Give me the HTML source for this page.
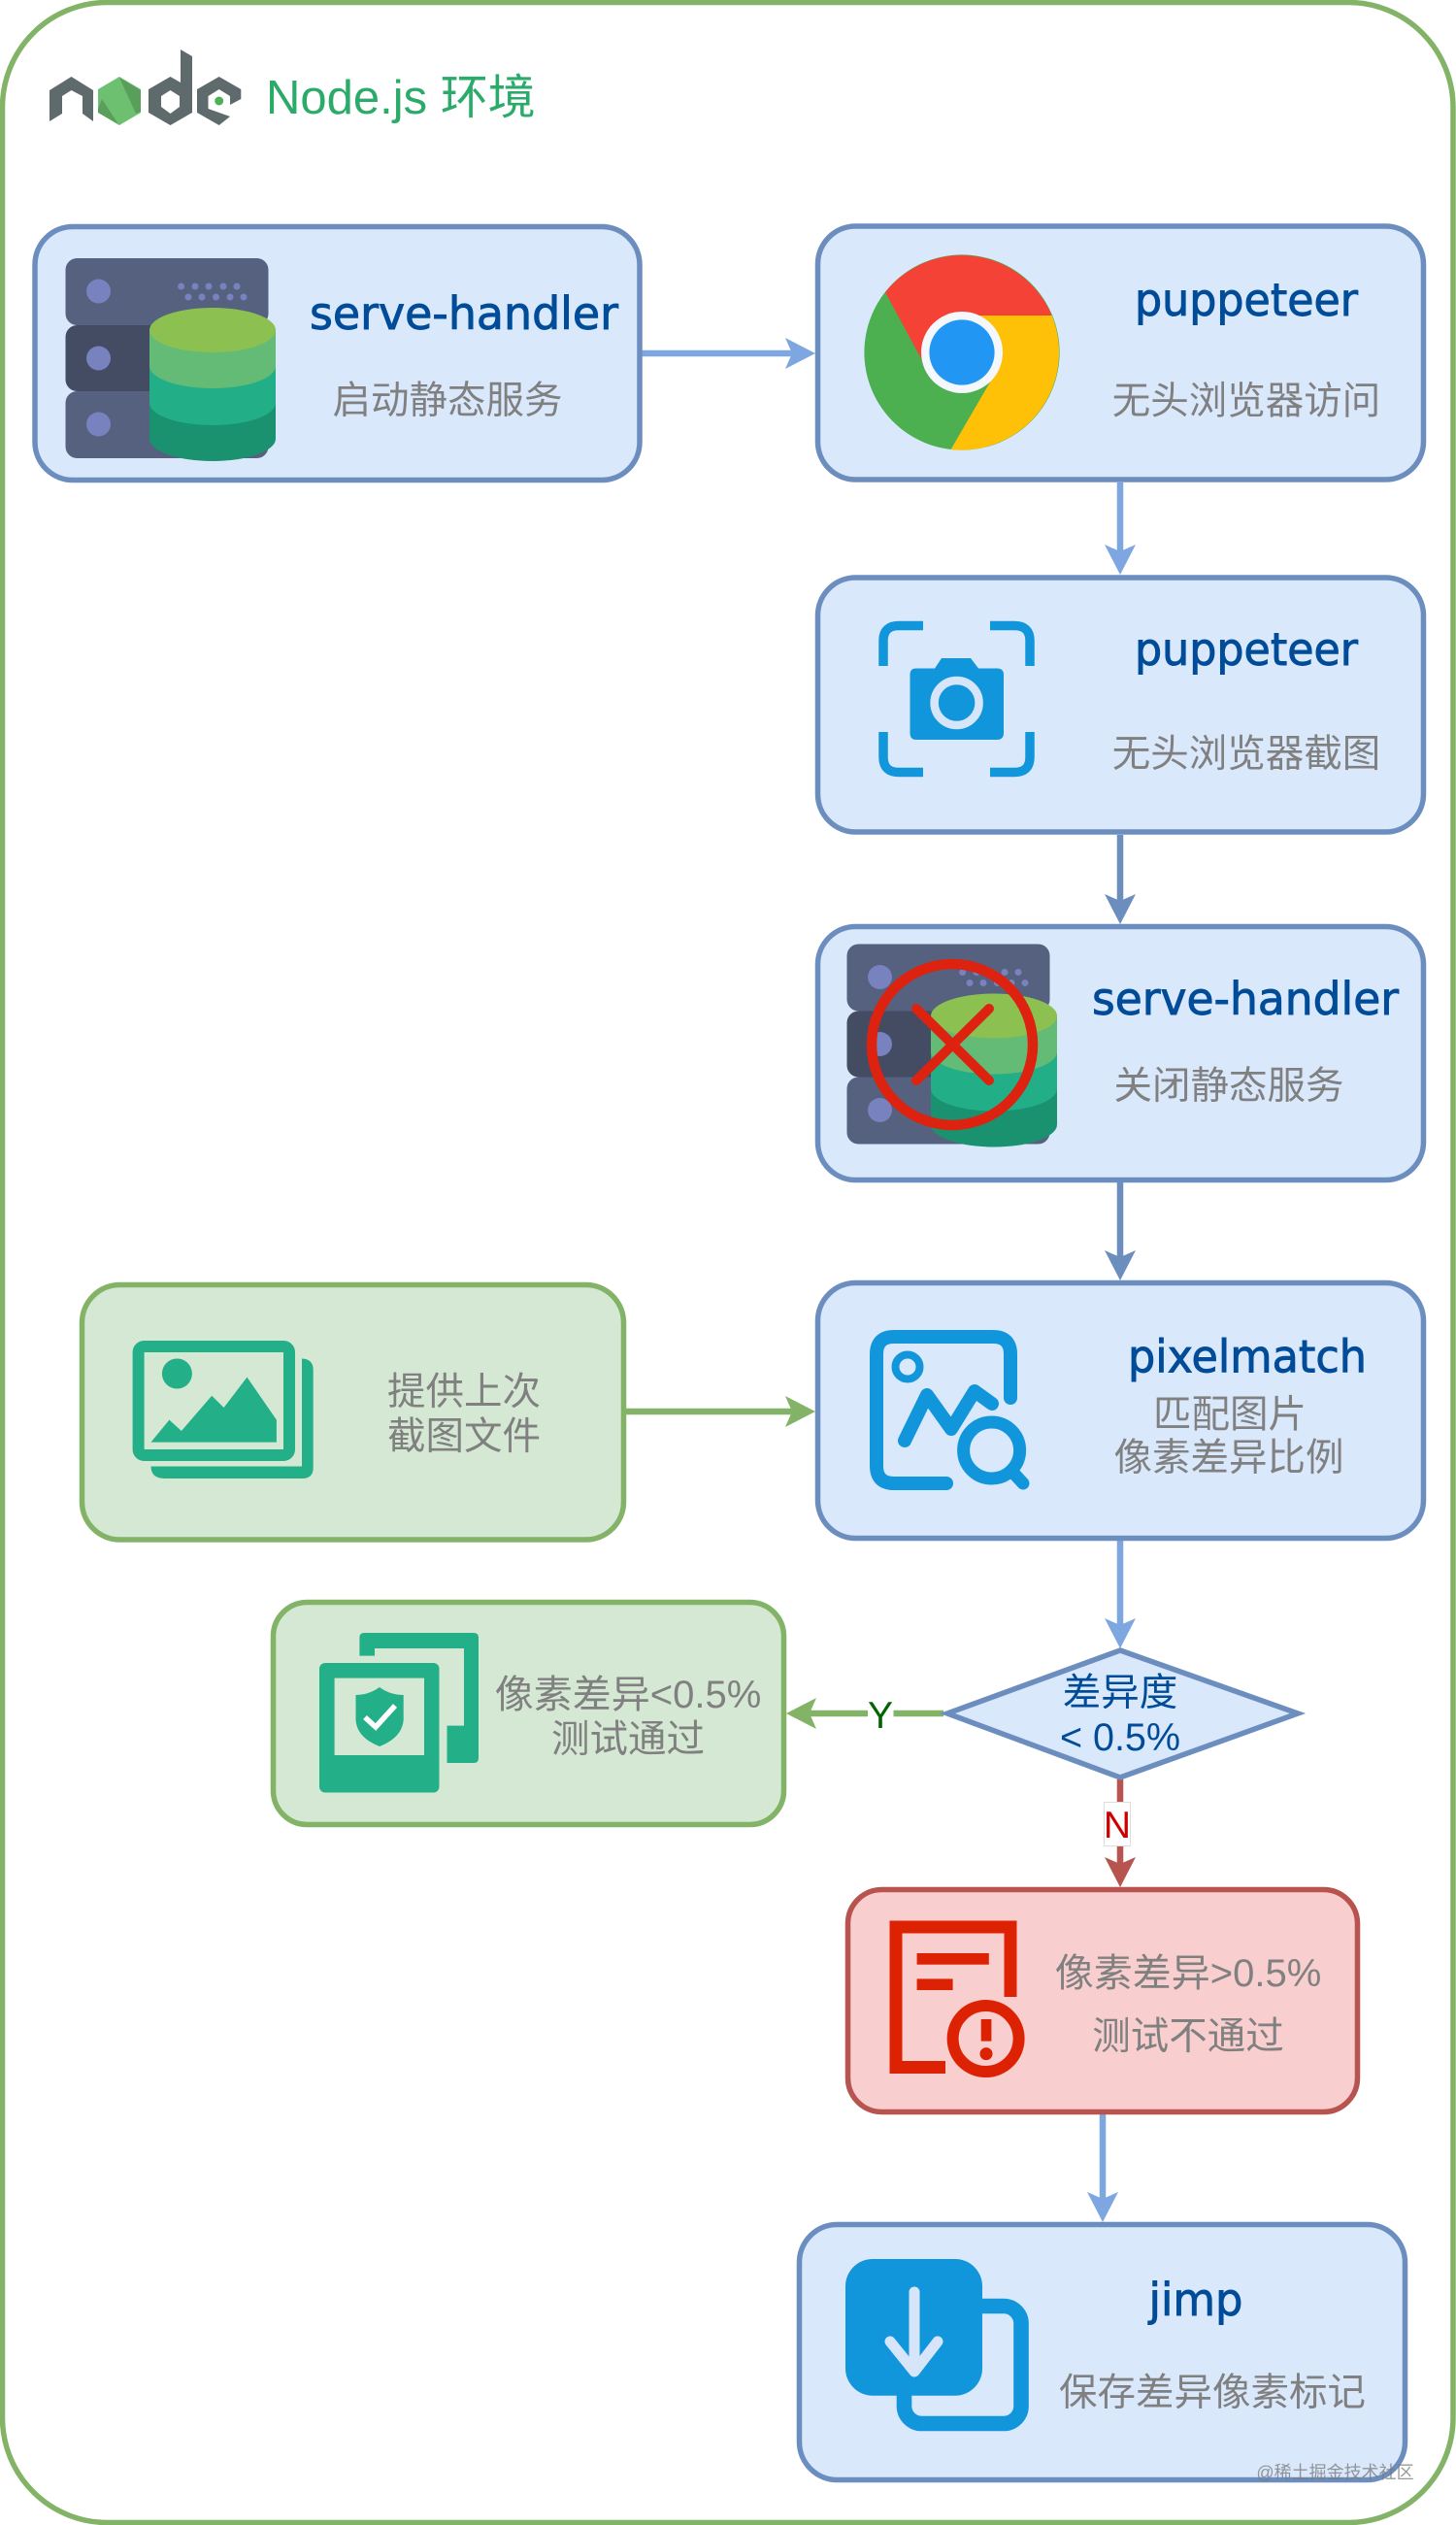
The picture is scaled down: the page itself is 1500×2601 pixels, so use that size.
<!DOCTYPE html>
<html><head><meta charset="utf-8"><style>
html,body{margin:0;padding:0;background:#fff;width:1500px;height:2601px;overflow:hidden}
svg{display:block}
.t{font-family:"DejaVu Sans","Liberation Sans",sans-serif;font-size:46px;fill:#004C99;stroke:#004C99;stroke-width:.9;text-anchor:middle}
.c{font-family:"Liberation Sans","Noto Sans CJK SC",sans-serif;font-size:39.5px;fill:#808080;text-anchor:middle;dominant-baseline:central;transform:translateY(2px)}
.b{fill:#DAE8FC;stroke:#6C8EBF;stroke-width:5.5}
.g{fill:#D5E8D4;stroke:#82B366;stroke-width:5.5}
</style></head><body>
<svg width="1500" height="2601" viewBox="0 0 1500 2601" xmlns="http://www.w3.org/2000/svg">
<defs>
<g id="srv">
<rect x="67.5" y="266" width="209" height="69" rx="12" fill="#56617F"/>
<rect x="67.5" y="335" width="209" height="68" rx="12" fill="#444C63"/>
<rect x="67.5" y="403" width="209" height="69" rx="12" fill="#56617F"/>
<g fill="#7882BF"><circle cx="101.5" cy="300" r="12.5"/><circle cx="101.5" cy="369" r="12.5"/><circle cx="101.5" cy="437" r="12.5"/>
<circle cx="186.6" cy="295" r="3.5"/><circle cx="201" cy="295" r="3.5"/><circle cx="215" cy="295" r="3.5"/><circle cx="230" cy="295" r="3.5"/><circle cx="244" cy="295" r="3.5"/>
<circle cx="194" cy="306" r="3.5"/><circle cx="208" cy="306" r="3.5"/><circle cx="222.5" cy="306" r="3.5"/><circle cx="237" cy="306" r="3.5"/><circle cx="251" cy="306" r="3.5"/></g>
<rect x="154" y="415" width="130" height="37" fill="#1A9270"/><ellipse cx="219" cy="452" rx="65" ry="23" fill="#1A9270"/>
<rect x="154" y="377" width="130" height="38" fill="#22AF87"/><ellipse cx="219" cy="415" rx="65" ry="23" fill="#22AF87"/>
<rect x="154" y="339" width="130" height="38" fill="#64BB76"/><ellipse cx="219" cy="377" rx="65" ry="23" fill="#64BB76"/>
<ellipse cx="219" cy="340" rx="65" ry="23" fill="#8CC152"/>
</g>
</defs>

<rect x="2.5" y="2.5" width="1494.5" height="2596" rx="108" fill="#fff" stroke="#82B366" stroke-width="5.5"/>

<!-- node logo -->
<g fill="#5F6A6C">
<path d="M51 93L73.5 79L96 93V125L85 117V99L73.5 93L64 99V117L51 125Z"/>
<path fill-rule="evenodd" d="M153 92L175.5 79L186 85V51L198 58V116L175.5 129L153 116ZM166 99V110L175.5 117L185 110V99L175.5 93Z"/>
<path d="M203 92L225.7 79L248.3 92V102L237 108V99L225.7 92L214.5 99V112L237 120L225.7 129L203 116Z"/>
</g>
<path d="M123 79L145 92V116L123 129L101 116V92Z" fill="#6CC070"/>
<path d="M123 80L145 93V115L140 117Z" fill="#5A9E5C"/>
<path d="M101 112L105 102L122 128L101 116Z" fill="#5A9E5C"/>
<circle cx="225.7" cy="104" r="4.5" fill="#4FB05A"/>
<text x="274" y="117" font-family="Liberation Sans,Noto Sans CJK SC,sans-serif" font-size="49" fill="#2AAB6A">Node.js 环境</text>

<!-- connectors -->
<g stroke-width="6.5" fill="none">
<path d="M661 364H818" stroke="#7EA6E0"/>
<path d="M1154 497V568" stroke="#7EA6E0"/>
<path d="M1154 860V928" stroke="#6C8EBF"/>
<path d="M1154 1218V1295" stroke="#6C8EBF"/>
<path d="M1154 1587V1674" stroke="#7EA6E0"/>
<path d="M645 1454H818" stroke="#82B366"/>
<path d="M972 1765H832" stroke="#82B366"/>
<path d="M1154 1833V1920" stroke="#B85450"/>
<path d="M1136 2178V2265" stroke="#7EA6E0"/>
</g>
<polygon points="840,364 809,348 816,364 809,380" fill="#7EA6E0"/>
<polygon points="1154,592 1138,561 1154,568 1170,561" fill="#7EA6E0"/>
<polygon points="1154,952 1138,921 1154,928 1170,921" fill="#6C8EBF"/>
<polygon points="1154,1319 1138,1288 1154,1295 1170,1288" fill="#6C8EBF"/>
<polygon points="1154,1698 1138,1667 1154,1674 1170,1667" fill="#7EA6E0"/>
<polygon points="840,1454 809,1438 816,1454 809,1470" fill="#82B366"/>
<polygon points="810,1765 841,1749 834,1765 841,1781" fill="#82B366"/>
<polygon points="1154,1944 1138,1913 1154,1920 1170,1913" fill="#B85450"/>
<polygon points="1136,2289 1120,2258 1136,2265 1152,2258" fill="#7EA6E0"/>

<!-- boxes -->
<rect class="b" x="36" y="233.5" width="623" height="261" rx="39"/>
<rect class="b" x="842.5" y="233" width="624" height="261" rx="39"/>
<rect class="b" x="842.5" y="595" width="624" height="262" rx="39"/>
<rect class="b" x="842.5" y="954.5" width="624" height="261" rx="39"/>
<rect class="b" x="842.5" y="1321.5" width="624" height="263" rx="39"/>
<rect class="g" x="84.5" y="1323.5" width="558" height="262.5" rx="39"/>
<rect class="g" x="281.5" y="1650.5" width="526" height="229" rx="35"/>
<rect x="873.5" y="1946.5" width="525" height="229" rx="35" fill="#F9CECE" stroke="#B85450" stroke-width="5.5"/>
<rect class="b" x="823.5" y="2291.5" width="624" height="263" rx="39"/>
<polygon class="b" points="1154,1700 1337,1765 1154,1831 976,1765"/>

<!-- edge labels -->
<rect x="894" y="1745" width="26.5" height="45" fill="#fff"/>
<text x="907" y="1780" text-anchor="middle" font-family="Liberation Sans,sans-serif" font-size="39" fill="#006600">Y</text>
<rect x="1137.5" y="1856.5" width="27" height="45" fill="#fff" stroke="#ddd" stroke-width="1"/>
<text x="1151" y="1893" text-anchor="middle" font-family="Liberation Sans,sans-serif" font-size="39" fill="#CC0000">N</text>

<!-- server icons -->
<use href="#srv"/>
<use href="#srv" x="805" y="706.5"/>
<circle cx="981" cy="1076" r="83" fill="none" stroke="#DD2210" stroke-width="10.5"/>
<path d="M944 1039L1019 1113M1019 1039L944 1113" stroke="#DD2210" stroke-width="10" stroke-linecap="round"/>

<!-- chrome -->
<circle cx="991" cy="363" r="100.6" fill="#4CAF50"/>
<path d="M912 301A100.6 100.6 0 0 1 1083.6 325L991 325L952 375Z" fill="#F44336"/>
<path d="M1083.6 325A100.6 100.6 0 0 1 979.6 463L1025 385L991 325Z" fill="#FFC107"/>
<circle cx="991" cy="363" r="42" fill="#F4F7FB"/>
<circle cx="991" cy="363" r="33.6" fill="#2196F3"/>

<!-- camera -->
<g fill="none" stroke="#1296DB" stroke-width="9.5">
<path d="M951 644.5H926Q910 644.5 910 660V686"/>
<path d="M1020 644.5H1045Q1061 644.5 1061 660V686"/>
<path d="M951 795.5H926Q910 795.5 910 780V754"/>
<path d="M1020 795.5H1045Q1061 795.5 1061 780V754"/>
</g>
<path d="M944 688.5H963L970 678H1000L1008 688.5H1027Q1034 688.5 1034 695V755Q1034 762 1027 762H944Q937.5 762 937.5 755V695Q937.5 688.5 944 688.5Z" fill="#1296DB"/>
<circle cx="985.6" cy="724" r="23" fill="#1296DB" stroke="#D7E5FA" stroke-width="8.5"/>

<!-- pixelmatch icon -->
<g fill="none" stroke="#1296DB" stroke-linecap="round" stroke-linejoin="round">
<path d="M1041 1440V1395Q1041 1377 1023 1377H921Q903 1377 903 1395V1510Q903 1528 921 1528H975" stroke-width="14"/>
<circle cx="935" cy="1408" r="12.5" stroke-width="8"/>
<path d="M932 1484L955 1437L980 1472L1004 1433L1022 1446" stroke-width="14"/>
<circle cx="1021.6" cy="1494" r="29" stroke-width="13"/>
<path d="M1042 1515L1054 1528" stroke-width="13"/>
</g>

<!-- images icon -->
<path d="M155.5 1510.5H311V1399.5Q322.7 1400 322.7 1411V1512Q322.7 1523 311 1523H170Q155.5 1523 155.5 1510.5Z" fill="#23AF87"/>
<rect x="142.6" y="1387" width="155.4" height="112" rx="6" fill="none" stroke="#23AF87" stroke-width="12"/>
<circle cx="182.4" cy="1415" r="15.5" fill="#23AF87"/>
<polygon points="155.5,1485.6 174.4,1462.6 186.9,1474 218.2,1437.8 230.6,1450 254.5,1418.6 284.9,1462.6 284.9,1485.6" fill="#23AF87"/>

<!-- shield icon -->
<path d="M370.4 1687Q370.4 1682 375 1682H488Q493 1682 493 1687V1811Q493 1816 488 1816H460.5V1777.6H478V1698H386V1705.6H370.4Z" fill="#23AF87"/>
<rect x="329" y="1713" width="123.5" height="133.5" rx="6" fill="#23AF87"/>
<rect x="344.6" y="1728.6" width="92.4" height="79.4" fill="#D5E8D4"/>
<path d="M391 1738Q380 1746 366.5 1746V1772Q368 1790 391 1799Q414 1790 415.7 1772V1746Q402 1746 391 1738Z" fill="#23AF87"/>
<path d="M376 1769L387 1779L407 1757" fill="none" stroke="#fff" stroke-width="5.5"/>

<!-- red doc icon -->
<g fill="#DD2204">
<rect x="944.6" y="2012" width="74.2" height="11.7"/>
<rect x="944.6" y="2038.4" width="37" height="11.6"/>
<rect x="1010.7" y="2080" width="10.7" height="22.6"/>
<circle cx="1016" cy="2115.6" r="6.5"/>
</g>
<path d="M974 2129.5H923V1985H1041V2057" fill="none" stroke="#DD2204" stroke-width="13"/>
<circle cx="1015.6" cy="2100" r="34" fill="none" stroke="#DD2204" stroke-width="12"/>

<!-- jimp icon -->
<rect x="931.5" y="2375.5" width="120.5" height="121" rx="18" fill="none" stroke="#1296DB" stroke-width="15.6"/>
<rect x="871" y="2327" width="141" height="140.7" rx="28" fill="#1296DB"/>
<path d="M942 2361V2438M917 2412L942 2443L966 2412" fill="none" stroke="#D7E5FA" stroke-width="11" stroke-linecap="round" stroke-linejoin="round"/>

<!-- texts -->
<text class="t" x="478" y="339" textLength="318" lengthAdjust="spacingAndGlyphs">serve-handler</text>
<text class="c" x="461" y="411">启动静态服务</text>
<text class="t" x="1284" y="325" textLength="230" lengthAdjust="spacingAndGlyphs">puppeteer</text>
<text class="c" x="1284" y="411.5">无头浏览器访问</text>
<text class="t" x="1284" y="685" textLength="230" lengthAdjust="spacingAndGlyphs">puppeteer</text>
<text class="c" x="1284" y="775">无头浏览器截图</text>
<text class="t" x="1283" y="1045" textLength="316" lengthAdjust="spacingAndGlyphs">serve-handler</text>
<text class="c" x="1266" y="1117">关闭静态服务</text>
<text class="t" x="1285" y="1413.5" textLength="246" lengthAdjust="spacingAndGlyphs">pixelmatch</text>
<text class="c" x="1267" y="1455.5">匹配图片</text>
<text class="c" x="1266" y="1500">像素差异比例</text>
<text class="c" x="478" y="1432">提供上次</text>
<text class="c" x="478" y="1478">截图文件</text>
<text class="c" x="647" y="1744" style="font-size:40px">像素差异&lt;0.5%</text>
<text class="c" x="647" y="1790">测试通过</text>
<text class="c" x="1154" y="1742" style="fill:#004C99">差异度</text>
<text class="c" x="1154" y="1788" style="fill:#004C99">&lt; 0.5%</text>
<text class="c" x="1224" y="2031" style="font-size:40px">像素差异&gt;0.5%</text>
<text class="c" x="1224" y="2096">测试不通过</text>
<text class="t" x="1232" y="2385" textLength="97" lengthAdjust="spacingAndGlyphs">jimp</text>
<text class="c" x="1249" y="2463">保存差异像素标记</text>
<text class="c" x="1375.5" y="2545" style="font-size:18px;fill:#777;fill-opacity:.75">@稀土掘金技术社区</text>
</svg>
</body></html>
